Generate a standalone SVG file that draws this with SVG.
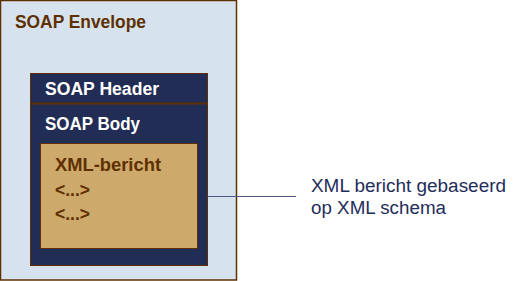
<svg xmlns="http://www.w3.org/2000/svg" width="528" height="281" viewBox="0 0 528 281">
<style>
.b{font-family:"Liberation Sans",Arial,sans-serif;font-weight:bold;font-size:18px}
.brown{fill:#5E3000}
.white{fill:#FFFFFF}
.note{font-family:"Liberation Sans",Arial,sans-serif;font-size:18px;fill:#1F2D5A}
</style>
<rect width="528" height="281" fill="#FFFFFF"/>
<g id="envelope">
<rect x="0.5" y="0.5" width="236" height="279.5" fill="#D6E3EE" stroke="#5E3000" stroke-width="1.5"/>
<text class="b brown" x="15" y="28" textLength="131" lengthAdjust="spacingAndGlyphs">SOAP Envelope</text>
</g>
<g id="header">
<rect x="30.5" y="73.5" width="177" height="30" fill="#222D55" stroke="#5E3000" stroke-width="1"/>
<text class="b white" x="45" y="94.5" textLength="114" lengthAdjust="spacingAndGlyphs">SOAP Header</text>
</g>
<g id="body">
<rect x="30.5" y="103.5" width="177" height="162" fill="#222D55" stroke="#5E3000" stroke-width="1"/>
<line x1="30.5" y1="103.5" x2="207.5" y2="103.5" stroke="#5E3000" stroke-width="2"/>
<text class="b white" x="45" y="129.5" textLength="95" lengthAdjust="spacingAndGlyphs">SOAP Body</text>
</g>
<g id="xml-bericht">
<rect x="40.5" y="143.5" width="157" height="105" fill="#CDA96B" stroke="#5E3000" stroke-width="1"/>
<text class="b brown" x="55" y="171" textLength="106" lengthAdjust="spacingAndGlyphs">XML-bericht</text>
<text class="b brown" x="55" y="196" textLength="35" lengthAdjust="spacingAndGlyphs">&lt;...&gt;</text>
<text class="b brown" x="55" y="220" textLength="35" lengthAdjust="spacingAndGlyphs">&lt;...&gt;</text>
</g>
<g id="connectors">
<line x1="207.5" y1="196.5" x2="296" y2="196.5" stroke="#4B5A85" stroke-width="1.2"/>
</g>
<g id="note">
<text class="note" x="311" y="192" textLength="195" lengthAdjust="spacingAndGlyphs">XML bericht gebaseerd</text>
<text class="note" x="311" y="214" textLength="135" lengthAdjust="spacingAndGlyphs">op XML schema</text>
</g>
</svg>
